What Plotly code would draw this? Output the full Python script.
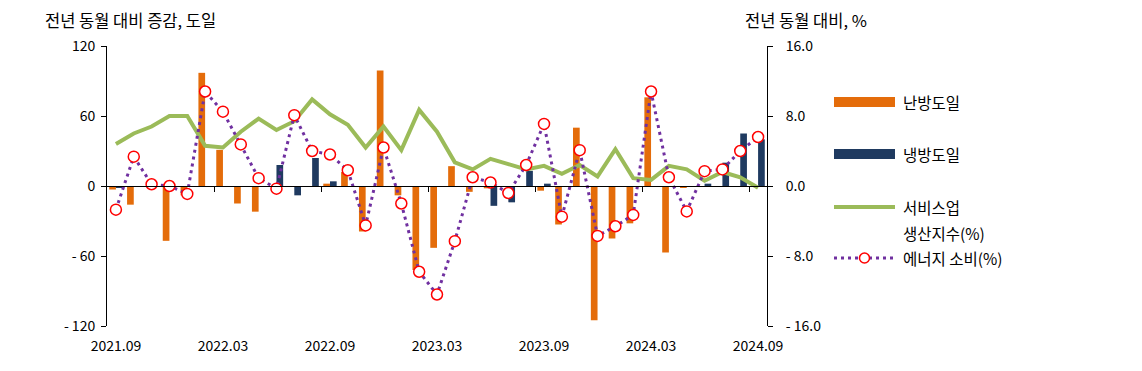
import plotly.graph_objects as go

months = ["2021.09", "2021.10", "2021.11", "2021.12", "2022.01", "2022.02", "2022.03", "2022.04",
          "2022.05", "2022.06", "2022.07", "2022.08", "2022.09", "2022.10", "2022.11", "2022.12",
          "2023.01", "2023.02", "2023.03", "2023.04", "2023.05", "2023.06", "2023.07", "2023.08",
          "2023.09", "2023.10", "2023.11", "2023.12", "2024.01", "2024.02", "2024.03", "2024.04",
          "2024.05", "2024.06", "2024.07", "2024.08", "2024.09"]

heating_dd = [-3, -16, 0, -47, -8, 97, 31, -15, -22, 0, 0, 0, 2, 12, -39, 99,
              -8, -72, -53, 17, -5, -2, 0, 0, -4, -33, 50, -115, -45, -32, 76, -57,
              -1.5, 0, 0, 0, 0]

cooling_dd = [-1.5, 0, 0, 0, 0, 0, 0, 0, 0, 18, -8, 24, 4, 0, 0, 0,
              0, 0, 0, 0, 0, -17, -14, 13, 2, 0, 0, 0, 0, 0, 0, 0,
              0, 2, 20, 45, 40]

service_idx = [4.8, 6.0, 6.8, 8.0, 8.0, 4.6, 4.4, 6.2, 7.7, 6.4, 7.4, 9.9, 8.2, 7.0, 4.4, 6.8,
               4.1, 8.7, 6.2, 2.7, 1.9, 3.1, 2.5, 1.9, 2.3, 1.4, 2.4, 1.1, 4.2, 0.9, 0.7, 2.3,
               1.9, 0.6, 1.6, 1.0, -0.2]

energy = [-2.7, 3.35, 0.2, 0.0, -0.9, 10.8, 8.5, 4.75, 0.9, -0.3, 8.1, 4.0, 3.6, 1.8, -4.5, 4.4,
          -2.0, -9.8, -12.4, -6.3, 1.0, 0.4, -0.8, 2.4, 7.1, -3.5, 4.1, -5.7, -4.6, -3.3, 10.8, 1.0,
          -2.9, 1.7, 1.9, 4.0, 5.6]

left_ticks = [-120, -60, 0, 60, 120]
left_ticktext = ["- 120", "- 60", "0", "60", "120"]
right_ticks = [-16, -8, 0, 8, 16]
right_ticktext = ["- 16.0", "- 8.0", "0.0", "8.0", "16.0"]

ORANGE = "#E46C0A"
NAVY = "#1F3A60"
GREEN = "#9BBB59"
PURPLE = "#7030A0"
RED = "#FF0000"
FONT = "Noto Sans CJK KR"

fig = go.Figure()
fig.add_trace(go.Bar(x=months, y=heating_dd, name="난방도일", marker_color=ORANGE,
                     marker_line_width=0, showlegend=False))
fig.add_trace(go.Bar(x=months, y=cooling_dd, name="냉방도일", marker_color=NAVY,
                     marker_line_width=0, showlegend=False))
fig.add_trace(go.Scatter(x=months, y=service_idx, name="서비스업 생산지수(%)", mode="lines",
                         line=dict(color=GREEN, width=4), yaxis="y2", showlegend=False))
fig.add_trace(go.Scatter(x=months, y=energy, name="에너지 소비(%)", mode="lines+markers",
                         line=dict(color=PURPLE, width=3, dash="3px,4px"),
                         marker=dict(symbol="circle", size=11, color="white",
                                     line=dict(color=RED, width=1.5)),
                         yaxis="y2", showlegend=False))

# page body has an 8px margin; plot area on screen: x 107..767, y 46..326
OFF = 8
W, H = 1142, 371
PL, PR, PT, PB = 107, 767, 46, 326
L, T = PL - OFF, PT - OFF
R, B = W - (PR - OFF), H - (PB - OFF)
pw, ph = PR - PL, PB - PT


def px_x(x):
    return (x - PL) / pw


def px_y(y):
    return (PB - y) / ph


ymin, ymax = left_ticks[0], left_ticks[-1]
zero_pos = (0 - ymin) / (ymax - ymin)
n = len(months)
boundaries = [i - 0.5 for i in range(6, n, 6)]

fig.update_layout(
    width=W, height=H,
    margin=dict(l=L, r=R, t=T, b=B, pad=0),
    paper_bgcolor="white", plot_bgcolor="white",
    font=dict(family=FONT, size=14, color="black"),
    barmode="group", bargap=0.25, bargroupgap=0,
    showlegend=False,
    xaxis=dict(type="category", categoryorder="array", categoryarray=months,
               range=[-0.5, n - 0.5], tickmode="array", tickvals=months[::6],
               ticks="", showline=False, showgrid=False, zeroline=False,
               ticklabelstandoff=10, tickfont=dict(size=14)),
    xaxis2=dict(overlaying="x", anchor="free", position=zero_pos, type="linear",
                range=[-0.5, n - 0.5], tickmode="array", tickvals=boundaries,
                ticks="outside", ticklen=5, tickcolor="black", showticklabels=False,
                showline=True, linecolor="black", linewidth=1, showgrid=False, zeroline=False),
    yaxis=dict(range=[ymin, ymax], tickmode="array", tickvals=left_ticks, ticktext=left_ticktext,
               showline=True, linecolor="black", linewidth=1, ticks="outside", ticklen=5,
               tickcolor="black", showgrid=False, zeroline=False, tickfont=dict(size=14),
               ticklabelstandoff=3),
    yaxis2=dict(overlaying="y", side="right", range=[right_ticks[0], right_ticks[-1]],
                tickmode="array", tickvals=right_ticks, ticktext=right_ticktext,
                showline=True, linecolor="black", linewidth=1, ticks="outside", ticklen=5,
                tickcolor="black", showgrid=False, zeroline=False, tickfont=dict(size=14),
                ticklabelstandoff=10),
)

# invisible trace to activate xaxis2
fig.add_trace(go.Scatter(x=[0], y=[0], xaxis="x2", yaxis="y", mode="markers",
                         marker=dict(opacity=0), hoverinfo="skip", showlegend=False))

# axis titles
fig.add_annotation(text="전년 동월 대비 증감, 도일", xref="paper", yref="paper",
                   x=px_x(43), y=px_y(20), xanchor="left", yanchor="middle",
                   showarrow=False, font=dict(size=16.5))
fig.add_annotation(text="전년 동월 대비, %", xref="paper", yref="paper",
                   x=px_x(743), y=px_y(20), xanchor="left", yanchor="middle",
                   showarrow=False, font=dict(size=16.5))

# custom legend
sx0, sx1, tx = px_x(834), px_x(895), px_x(901)
leg = [
    ("난방도일", ORANGE, 10, None, 102),
    ("냉방도일", NAVY, 10, None, 154),
    ("서비스업", GREEN, 4, None, 207),
    ("에너지 소비(%)", PURPLE, 3, "3px,4px", 258),
]
for label, color, width, dash, ypx in leg:
    fig.add_shape(type="line", xref="paper", yref="paper", x0=sx0, x1=sx1,
                  y0=px_y(ypx), y1=px_y(ypx),
                  line=dict(color=color, width=width, dash=dash) if dash else dict(color=color, width=width))
    fig.add_annotation(text=label, xref="paper", yref="paper", x=tx, y=px_y(ypx),
                       xanchor="left", yanchor="middle", showarrow=False, font=dict(size=15.5))
fig.add_annotation(text="생산지수(%)", xref="paper", yref="paper", x=tx, y=px_y(233),
                   xanchor="left", yanchor="middle", showarrow=False, font=dict(size=15.5))
fig.add_shape(type="circle", xref="paper", yref="paper", xsizemode="pixel", ysizemode="pixel",
              xanchor=(sx0 + sx1) / 2, yanchor=px_y(258), x0=-5, x1=5, y0=-5, y1=5,
              fillcolor="white", line=dict(color=RED, width=1.5))

fig.write_html("out.html")
